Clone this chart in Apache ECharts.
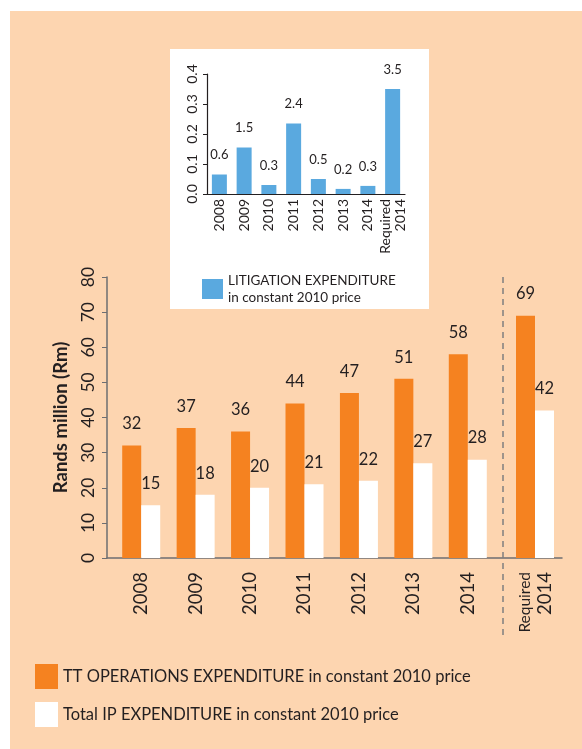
<!DOCTYPE html>
<html>
<head>
<meta charset="utf-8">
<script src="https://cdn.jsdelivr.net/npm/echarts@6/dist/echarts.min.js"></script>
<style>
  html, body { margin: 0; padding: 0; background: #fff; }
  #chart { width: 582px; height: 749px; }
</style>
</head>
<body>
<div id="chart"></div>
<script>
// inset: litigation expenditure
const litYears = ['2008', '2009', '2010', '2011', '2012', '2013', '2014', 'Required\n2014'];
const litValues = [0.065, 0.155, 0.03, 0.235, 0.05, 0.017, 0.027, 0.35];
const litLabels = ['0.6', '1.5', '0.3', '2.4', '0.5', '0.2', '0.3', '3.5'];

// main chart
const years = ['2008', '2009', '2010', '2011', '2012', '2013', '2014'];
const opsSpend = [32, 37, 36, 44, 47, 51, 58];
const ipSpend = [15, 18, 20, 21, 22, 27, 28];
const reqCategory = ['Required 2014'];
const opsRequired = [69];
const ipRequired = [42];

const OPS_NAME = 'TT OPERATIONS EXPENDITURE in constant 2010 price';
const IP_NAME = 'Total IP EXPENDITURE in constant 2010 price';
const LIT_NAME = 'LITIGATION EXPENDITURE';

const FONT = 'Lato, "Noto Sans", sans-serif';
const INK = '#231f20';
const ORANGE = '#f58220';
const BLUE = '#5aa9df';
const PEACH = '#fdd5b0';

const chart = echarts.init(document.getElementById('chart'));

const mainBarLabel = {
  show: true, position: 'top', distance: 13,
  fontFamily: FONT, fontSize: 16.5, color: INK
};

const option = {
  animation: false,
  textStyle: { fontFamily: FONT, color: INK },
  graphic: [
    { type: 'rect', z: -10, shape: { x: 10, y: 11, width: 572, height: 738 }, style: { fill: PEACH } },
    { type: 'rect', z: -9, shape: { x: 170, y: 49, width: 259, height: 260 }, style: { fill: '#fff' } },
    { type: 'line', z: 10, shape: { x1: 503, y1: 277, x2: 503, y2: 637 },
      style: { stroke: '#7f7f7f', lineWidth: 1.5, lineDash: [6, 5] } }
  ],
  legend: [
    {
      data: [LIT_NAME],
      left: 197, top: 267, orient: 'vertical',
      itemWidth: 21, itemHeight: 20, itemGap: 6,
      icon: 'rect',
      formatter: () => 'LITIGATION EXPENDITURE\nin constant 2010 price',
      textStyle: { fontFamily: FONT, fontSize: 13.5, color: INK, lineHeight: 17 }
    },
    {
      data: [OPS_NAME, IP_NAME],
      left: 30, top: 659, orient: 'vertical',
      itemWidth: 23, itemHeight: 25, itemGap: 13,
      icon: 'rect',
      textStyle: { fontFamily: FONT, fontSize: 16.5, color: INK }
    }
  ],
  grid: [
    { left: 207, right: 177, top: 74, bottom: 555 },
    { left: 107, right: 20, top: 277, bottom: 191 },
    { left: 114, width: 381, top: 277, bottom: 191 },
    { left: 508, width: 54, top: 277, bottom: 191 }
  ],
  xAxis: [
    {
      gridIndex: 0, type: 'category', data: litYears,
      axisLine: { lineStyle: { color: INK, width: 1.2 } },
      axisTick: { show: false },
      axisLabel: { rotate: 90, margin: 5, fontSize: 14, color: INK, lineHeight: 15, fontFamily: FONT }
    },
    {
      gridIndex: 1, type: 'value', min: 0, max: 1,
      axisLine: { show: true, lineStyle: { color: '#6d6e71', width: 1.5 } },
      axisTick: { show: false }, axisLabel: { show: false }, splitLine: { show: false }
    },
    {
      gridIndex: 2, type: 'category', data: years,
      axisLine: { show: false }, axisTick: { show: false },
      axisLabel: { rotate: 90, margin: 14, fontSize: 18.5, color: INK, fontFamily: FONT }
    },
    {
      gridIndex: 3, type: 'category', data: reqCategory,
      axisLine: { show: false }, axisTick: { show: false },
      axisLabel: {
        rotate: 90, margin: 14, color: INK,
        formatter: () => '{a|Required}\n{b|2014}',
        rich: {
          a: { fontSize: 15.5, fontFamily: FONT, color: INK, lineHeight: 20 },
          b: { fontSize: 18.5, fontFamily: FONT, color: INK, lineHeight: 20 }
        }
      }
    }
  ],
  yAxis: [
    {
      gridIndex: 0, type: 'value', min: 0, max: 0.4, interval: 0.1,
      axisLine: { show: true, lineStyle: { color: INK, width: 1.2 } },
      axisTick: { show: true, length: 4, lineStyle: { color: INK } },
      splitLine: { show: false },
      axisLabel: { rotate: 90, margin: 8, fontSize: 14, color: INK, fontFamily: FONT,
        formatter: (v) => v.toFixed(1) }
    },
    {
      gridIndex: 1, type: 'value', min: 0, max: 80, interval: 10,
      name: 'Rands million (Rm)', nameLocation: 'middle', nameRotate: 90, nameGap: 36,
      nameTextStyle: { fontSize: 18.5, fontWeight: 'bold', color: INK, fontFamily: FONT },
      axisLine: { show: true, lineStyle: { color: '#6d6e71', width: 1.5 } },
      axisTick: { show: true, length: 5, lineStyle: { color: '#6d6e71' } },
      splitLine: { show: false },
      axisLabel: { rotate: 90, margin: 10, fontSize: 17.5, color: INK, fontFamily: FONT }
    },
    { gridIndex: 2, type: 'value', min: 0, max: 80, show: false },
    { gridIndex: 3, type: 'value', min: 0, max: 80, show: false }
  ],
  series: [
    {
      name: LIT_NAME, type: 'bar', xAxisIndex: 0, yAxisIndex: 0,
      data: litValues, barWidth: 15,
      itemStyle: { color: BLUE },
      label: { show: true, position: 'top', distance: 13, fontSize: 13, color: INK, fontFamily: FONT,
        formatter: (p) => litLabels[p.dataIndex] }
    },
    {
      name: OPS_NAME, type: 'bar', xAxisIndex: 2, yAxisIndex: 2,
      data: opsSpend, barWidth: 19, barGap: '0%',
      itemStyle: { color: ORANGE }, label: mainBarLabel
    },
    {
      name: IP_NAME, type: 'bar', xAxisIndex: 2, yAxisIndex: 2,
      data: ipSpend, barWidth: 19, barGap: '0%',
      itemStyle: { color: '#fff' }, label: mainBarLabel
    },
    {
      name: OPS_NAME, type: 'bar', xAxisIndex: 3, yAxisIndex: 3,
      data: opsRequired, barWidth: 19, barGap: '0%',
      itemStyle: { color: ORANGE }, label: mainBarLabel
    },
    {
      name: IP_NAME, type: 'bar', xAxisIndex: 3, yAxisIndex: 3,
      data: ipRequired, barWidth: 19, barGap: '0%',
      itemStyle: { color: '#fff' }, label: mainBarLabel
    }
  ]
};

chart.setOption(option);
</script>
</body>
</html>
